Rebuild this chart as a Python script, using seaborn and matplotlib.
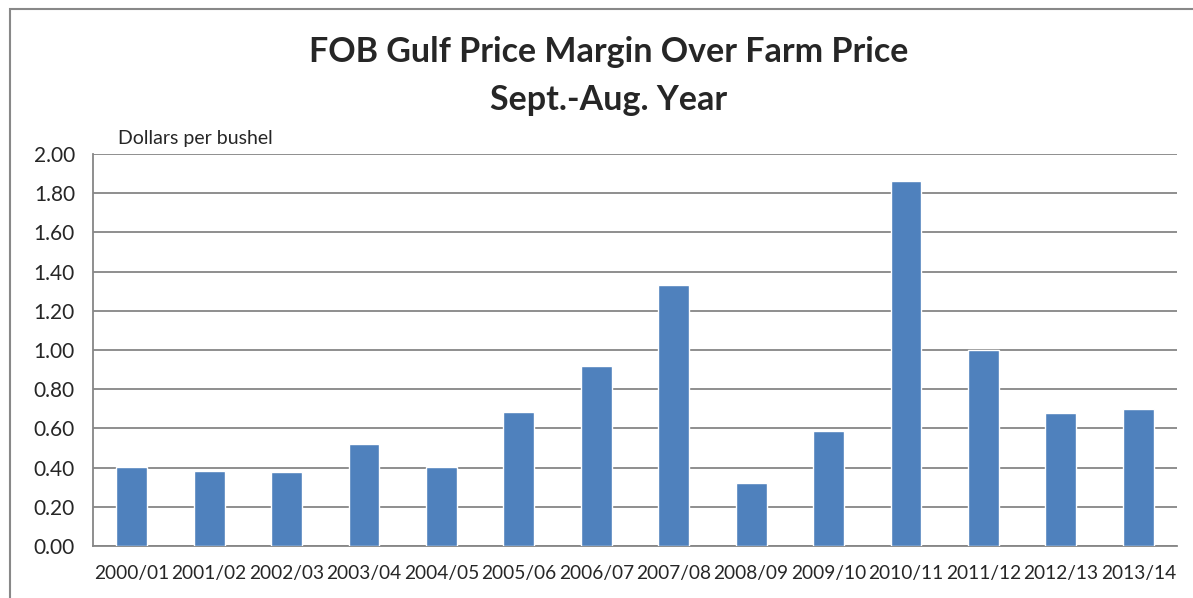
import pandas as pd
import seaborn as sns
import matplotlib.pyplot as plt
from matplotlib.patches import Rectangle

# marketing years and margin values (dollars per bushel)
years = ["2000/01", "2001/02", "2002/03", "2003/04", "2004/05", "2005/06", "2006/07",
         "2007/08", "2008/09", "2009/10", "2010/11", "2011/12", "2012/13", "2013/14"]
margin = [0.405, 0.381, 0.376, 0.519, 0.401, 0.684, 0.918,
          1.333, 0.323, 0.587, 1.864, 1.00, 0.679, 0.699]
y_ticks = [0.0, 0.2, 0.4, 0.6, 0.8, 1.0, 1.2, 1.4, 1.6, 1.8, 2.0]

df = pd.DataFrame({"year": years, "margin": margin})

sns.set_style("white")
plt.rcParams['font.family'] = ['Lato', 'DejaVu Sans']

fig = plt.figure(figsize=(11.93, 5.98), dpi=100)
ax = fig.add_axes([93 / 1193, 1 - 546 / 598, (1177 - 93) / 1193, (546 - 154) / 598])

sns.barplot(data=df, x="year", y="margin", color="#4F81BD", width=0.4,
            saturation=1, ax=ax, zorder=3)

grid_col = "#868686"
ax.set_ylim(0, 2.0)
ax.set_xlim(-0.5, len(years) - 0.5)
ax.set_yticks(y_ticks)
ax.set_yticklabels([f"{v:.2f}" for v in y_ticks], fontsize=15)
ax.yaxis.grid(True, color=grid_col, linewidth=1.3, zorder=0)
ax.set_axisbelow(True)

# labels at bar centers, tick marks between categories
ax.set_xticks(range(len(years)))
ax.set_xticklabels(years, fontsize=13.8)
ax.tick_params(axis="x", which="major", length=0, pad=14)
ax.set_xticks([i - 0.5 for i in range(len(years) + 1)], minor=True)
ax.tick_params(axis="x", which="minor", length=6, width=1.3, color=grid_col, direction="out")
ax.tick_params(axis="y", length=7, width=1.3, color=grid_col, direction="out", pad=6)

for side in ["top", "right"]:
    ax.spines[side].set_visible(False)
for side in ["left", "bottom"]:
    ax.spines[side].set_color(grid_col)
    ax.spines[side].set_linewidth(1.3)

ax.set_xlabel("")
ax.set_ylabel("")

fig.text(118 / 1193, 1 - 138 / 598, "Dollars per bushel", fontsize=14, va="center", ha="left")
fig.text(0.5 + 12 / 1193, 1 - 52 / 598, "FOB Gulf Price Margin Over Farm Price",
         fontsize=24.5, fontweight="bold", ha="center", va="center")
fig.text(0.5 + 12 / 1193, 1 - 100 / 598, "Sept.-Aug. Year",
         fontsize=24.5, fontweight="bold", ha="center", va="center")

# chart area border (only left and top edges are in view)
fig.patches.append(Rectangle((10 / 1193, -0.1), 1.2, 1 - 9 / 598 + 0.1,
                             transform=fig.transFigure, fill=False,
                             edgecolor="#888888", linewidth=1.5))

fig.savefig("out.png", dpi=100)
